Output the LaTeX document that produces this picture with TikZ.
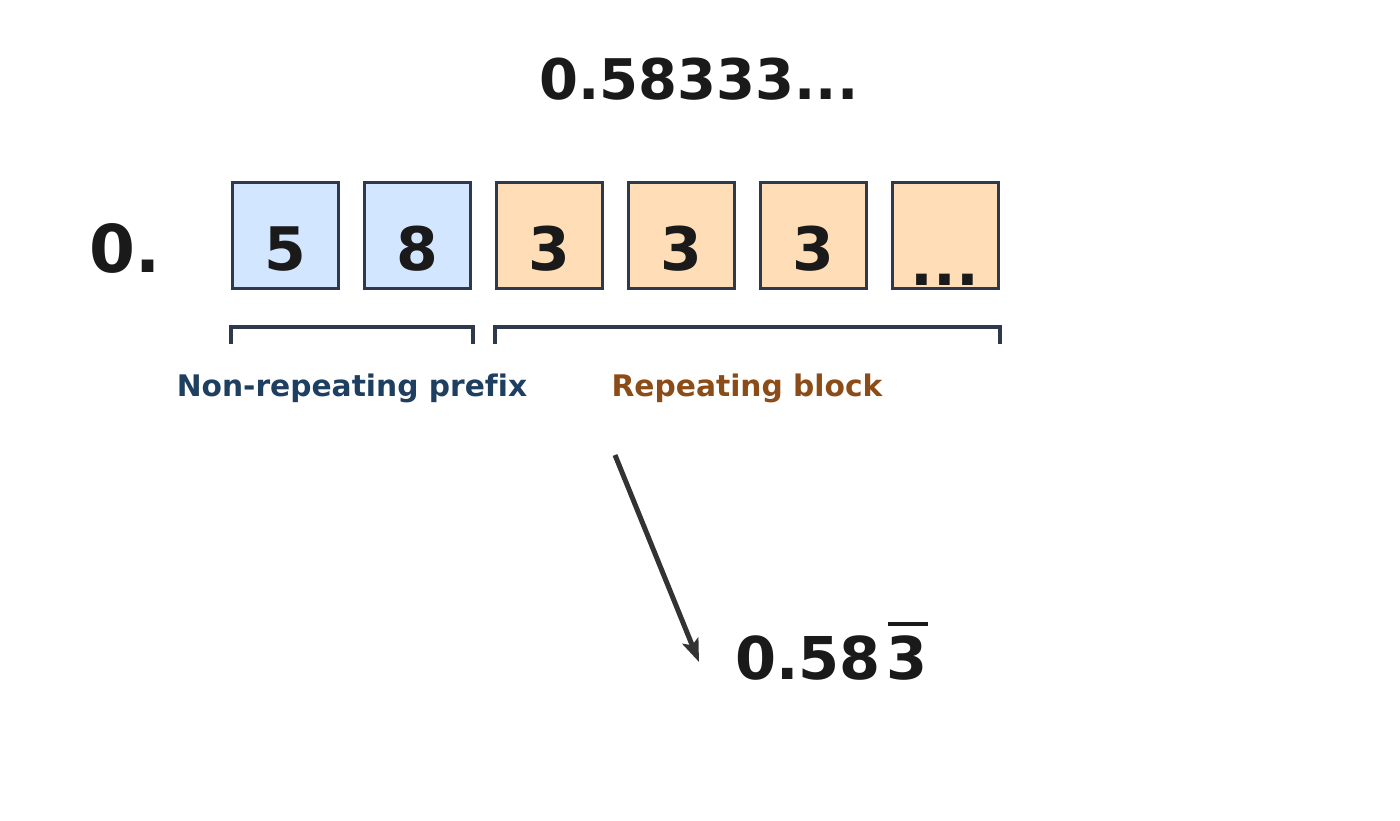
\documentclass[tikz,border=0pt]{standalone}
\usepackage{fontspec}
\setmainfont[Ligatures=NoCommon]{DejaVu Sans}
\usetikzlibrary{arrows.meta}
\definecolor{boxedge}{HTML}{2E3A4B}
\definecolor{bluefill}{HTML}{D2E6FF}
\definecolor{orangefill}{HTML}{FFDDB6}
\definecolor{bluetext}{HTML}{1F3F60}
\definecolor{browntext}{HTML}{8B4C17}
\definecolor{ink}{HTML}{1A1A1A}
\definecolor{arrowgray}{HTML}{333333}
\tikzset{
  digitbox/.style={draw=boxedge, line width=3pt, minimum width=106pt, minimum height=106pt, inner sep=0pt},
  pre/.style={digitbox, fill=bluefill},
  rep/.style={digitbox, fill=orangefill},
  bigdigit/.style={font=\fontsize{60}{70}\selectfont\bfseries, text=ink, inner sep=0pt, anchor=base},
  bracket/.style={draw=boxedge, line width=3.5pt},
  lab/.style={font=\fontsize{29.7}{35}\selectfont\bfseries, inner sep=0pt, anchor=base},
}
\begin{document}
\begin{tikzpicture}[x=1pt, y=-1pt]
\useasboundingbox (0,0) rectangle (1400,820);
% title
\node[bigdigit, font=\fontsize{56}{66}\selectfont\bfseries] (title) at (699,99) {0.58333...};
% leading 0.
\node[bigdigit, font=\fontsize{66}{76}\selectfont\bfseries] (lead) at (125,272) {0.};
% boxes
\node[pre] (b1) at (285,235) {};
\node[pre] (b2) at (417,235) {};
\node[rep] (b3) at (549,235) {};
\node[rep] (b4) at (681,235) {};
\node[rep] (b5) at (813,235) {};
\node[rep] (b6) at (945,235) {};
\node[bigdigit] (d1) at (285,270) {5};
\node[bigdigit] (d2) at (417,270) {8};
\node[bigdigit] (d3) at (549,270) {3};
\node[bigdigit] (d4) at (681,270) {3};
\node[bigdigit] (d5) at (813,270) {3};
\node[bigdigit] (d6) at (945,285) {...};
% brackets
\coordinate (p1) at (231,344);
\coordinate (p2) at (231,327);
\coordinate (p3) at (473,327);
\coordinate (p4) at (473,344);
\draw[bracket] (p1) -- (p2) -- (p3) -- (p4);
\coordinate (r1) at (495,344);
\coordinate (r2) at (495,327);
\coordinate (r3) at (1000,327);
\coordinate (r4) at (1000,344);
\draw[bracket] (r1) -- (r2) -- (r3) -- (r4);
% labels
\node[lab, text=bluetext] (lpre) at (352,396) {Non-repeating prefix};
\node[lab, text=browntext] (lrep) at (747,396) {Repeating block};
% arrow
\coordinate (a1) at (615,455);
\coordinate (a2) at (699,662);
\draw[arrowgray, line width=5pt, -{Stealth[length=23pt, width=17pt, inset=5pt]}] (a1) -- (a2);
% result
\node[bigdigit, anchor=base west, font=\fontsize{59}{69}\selectfont\bfseries] (res) at (735,679) {0.58};
\node[bigdigit, anchor=base west, font=\fontsize{59}{69}\selectfont\bfseries] (rep3) at (886,679) {3};
\draw[ink, line width=4pt] ([xshift=2pt,yshift=11pt]rep3.north west) -- ([xshift=1pt,yshift=11pt]rep3.north east);
\end{tikzpicture}
\end{document}
